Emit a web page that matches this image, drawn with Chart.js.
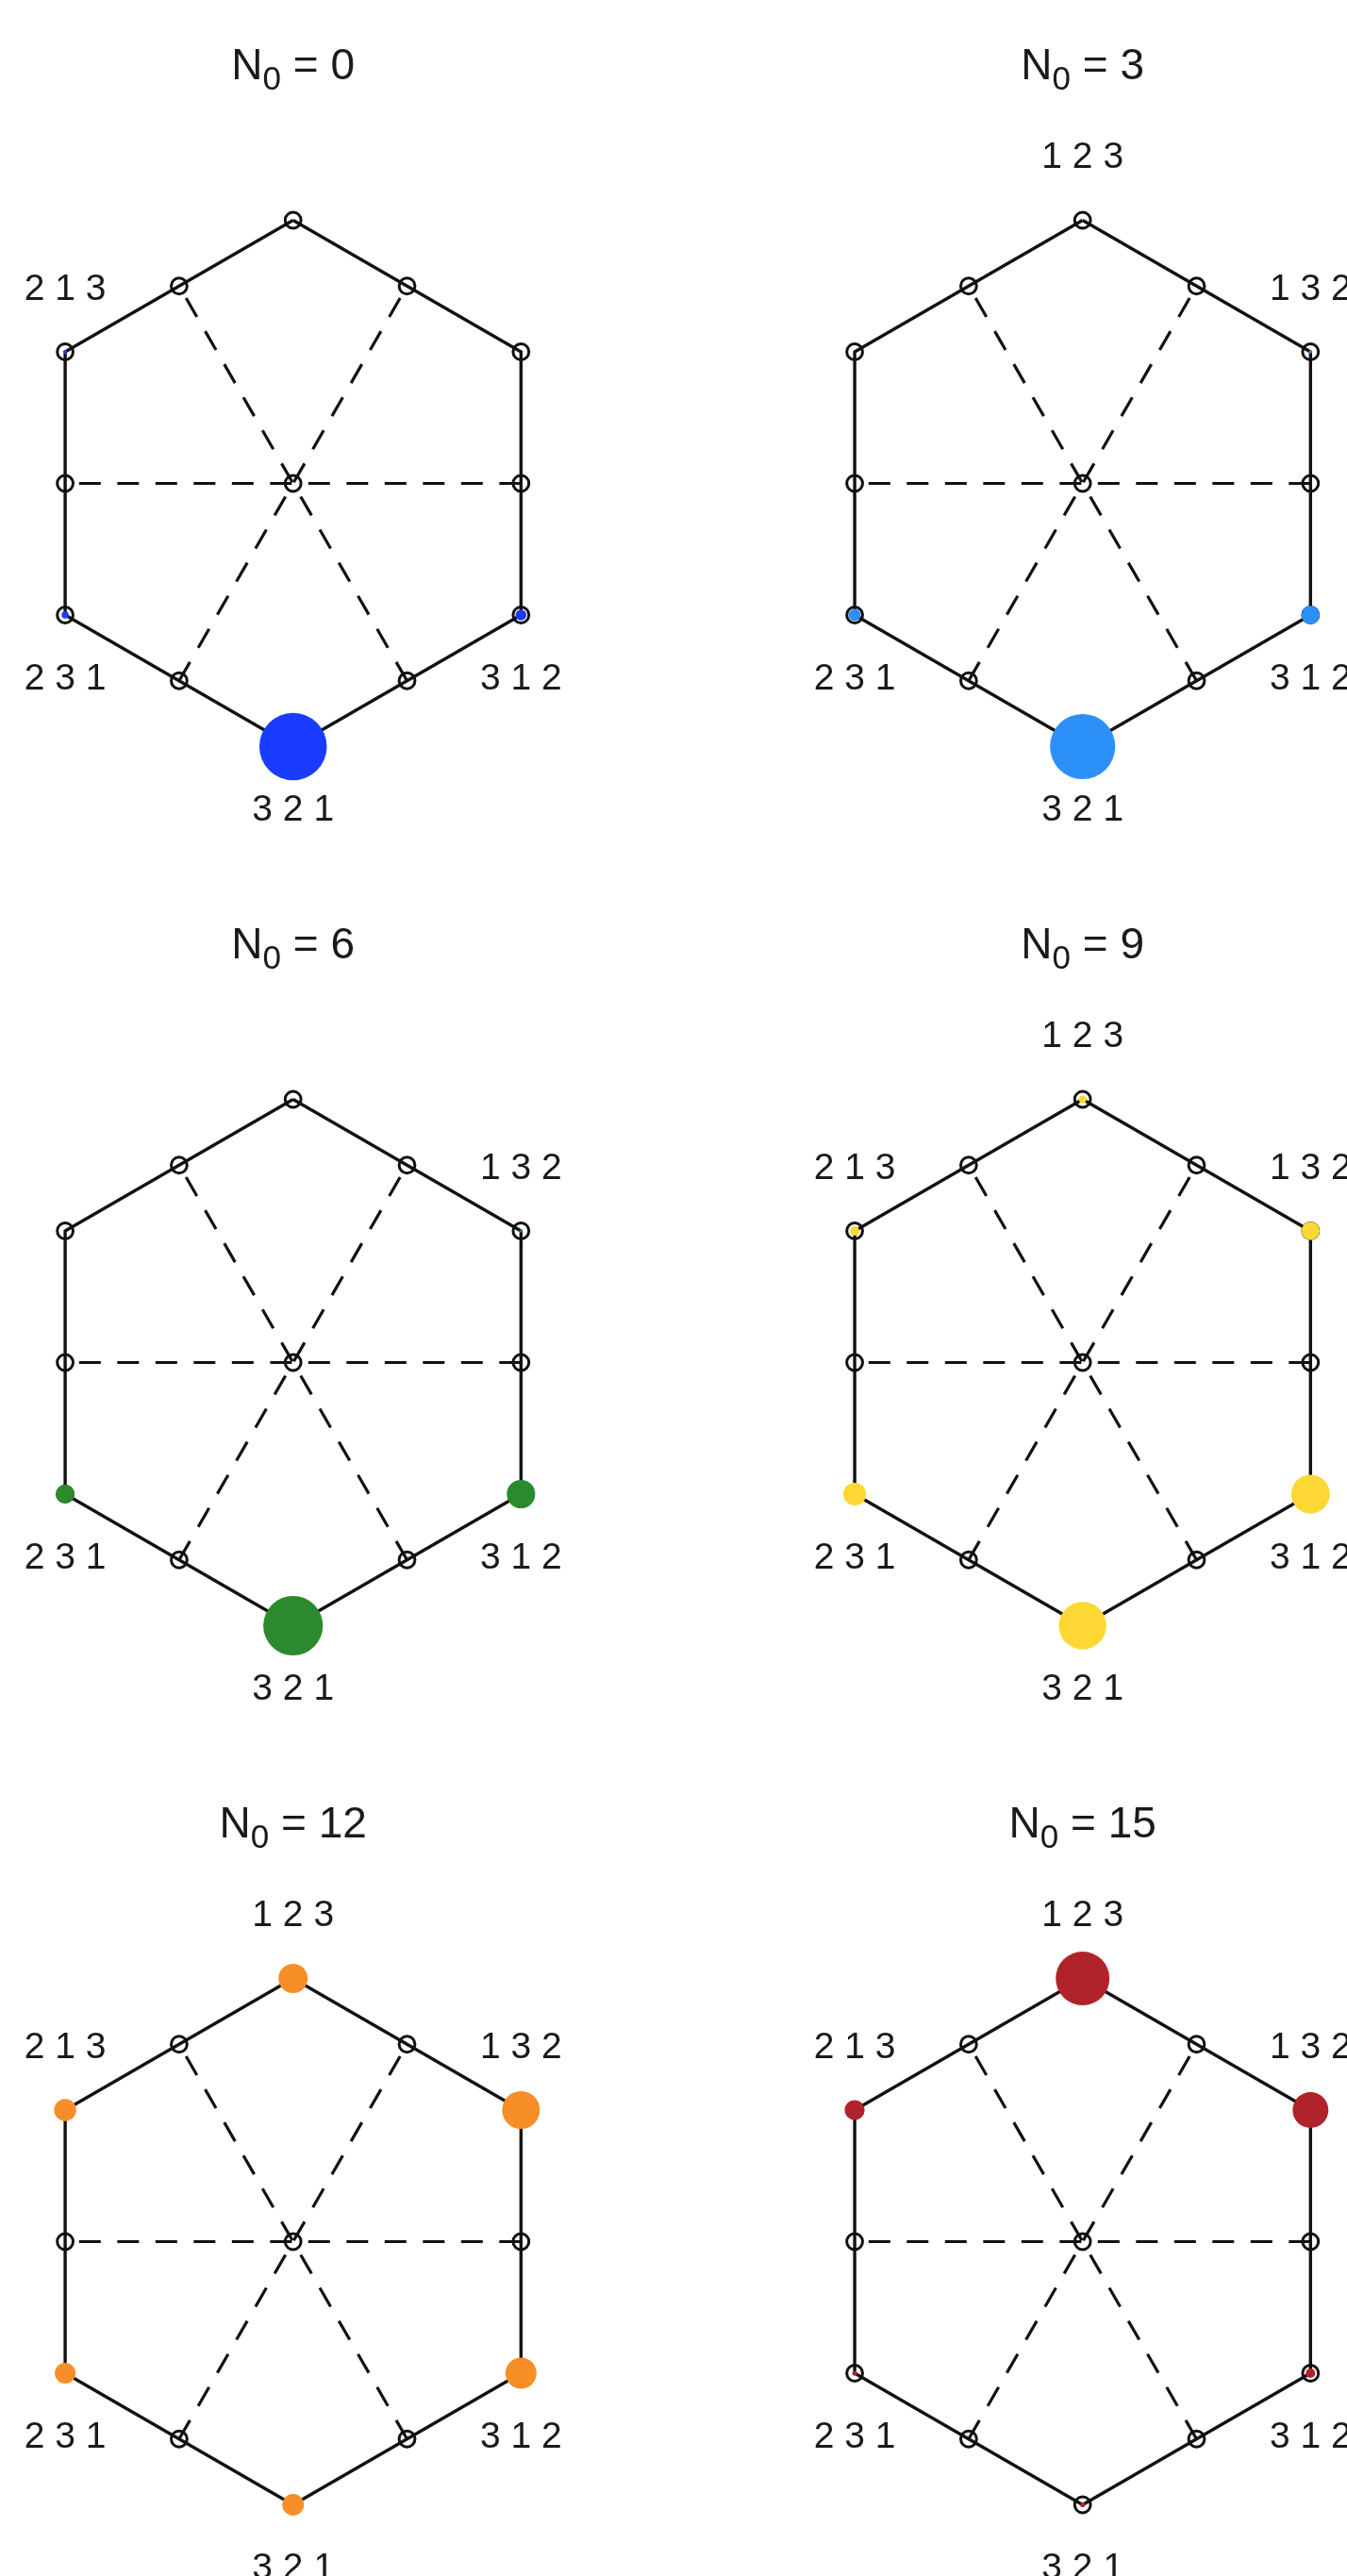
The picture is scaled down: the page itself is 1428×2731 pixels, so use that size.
<!DOCTYPE html>
<html>
<head>
<meta charset="utf-8">
<script src="https://cdn.jsdelivr.net/npm/chart.js@4.4.1/dist/chart.umd.min.js"></script>
<style>
  html, body { margin: 0; padding: 0; background: #fff; }
  #page { position: relative; width: 1428px; height: 2731px; overflow: hidden; }
  #page canvas { position: absolute; }
</style>
</head>
<body>
<div id="page"></div>
<script>
// N0 of each panel, left to right, top to bottom
const n0Values = [0, 3, 6, 9, 12, 15];

// vertex labels, clockwise from the top vertex
const vertexLabels = ['1 2 3', '1 3 2', '3 1 2', '3 2 1', '2 3 1', '2 1 3'];

// probability at each vertex (same order as vertexLabels), one array per panel
const probN0_0  = [0,      0,     0.025, 0.961, 0.011, 0.003];
const probN0_3  = [0.0003, 0.002, 0.07,  0.897, 0.031, 0];
const probN0_6  = [0,      0.002, 0.17,  0.75,  0.075, 0];
const probN0_9  = [0.012,  0.07,  0.315, 0.475, 0.11,  0.018];
const probN0_12 = [0.18,   0.30,  0.204, 0.099, 0.091, 0.103];
const probN0_15 = [0.61,   0.27,  0.019, 0.005, 0.005, 0.084];
const panelProbs = [probN0_0, probN0_3, probN0_6, probN0_9, probN0_12, probN0_15];

const panelColors = ['#1a3cfe', '#2b91f8', '#2b8a2e', '#fdd835', '#f88e27', '#b1232a'];

// geometry of the hexagon (unit radius), vertices clockwise from top
const vertexAngles = [90, 30, -30, -90, -150, 150];
const rad = d => d * Math.PI / 180;
const vertices = vertexAngles.map(a => ({ x: Math.cos(rad(a)), y: Math.sin(rad(a)) }));
const midpoints = vertices.map((v, i) => {
    const w = vertices[(i + 1) % 6];
    return { x: (v.x + w.x) / 2, y: (v.y + w.y) / 2 };
});
// dashed lines join opposite edge midpoints
const dashPairs = [[1, 4], [2, 5], [3, 0]];

// layout of the cells
const CELL_W = 714, CELL_H = 932;
const PX = 279;                     // pixels per unit
const centerX = [310.7, 433.7];     // hexagon centre inside a cell, by column
const centerY = 512.5;
const BUBBLE_SCALE = 36.5;          // radius = scale * sqrt(p)
const FONT = '"Liberation Sans", Arial, sans-serif';

const panelText = {
    id: 'panelText',
    afterDatasetsDraw(chart, args, opts) {
        const { ctx, scales: { x, y } } = chart;
        const cx = x.getPixelForValue(0), cy = y.getPixelForValue(0);
        ctx.save();
        ctx.fillStyle = '#1a1a1a';

        // title: N with subscript 0
        const big = '46px ' + FONT, small = '35px ' + FONT;
        const rest = ' = ' + opts.n0;
        ctx.font = big;
        const wN = ctx.measureText('N').width, wRest = ctx.measureText(rest).width;
        ctx.font = small;
        const wSub = ctx.measureText('0').width;
        let tx = cx - (wN + wSub + wRest) / 2;
        const base = cy - 429;
        ctx.textAlign = 'left';
        ctx.textBaseline = 'alphabetic';
        ctx.font = big;
        ctx.fillText('N', tx, base);
        tx += wN;
        ctx.font = small;
        ctx.fillText('0', tx, base + 11);
        tx += wSub;
        ctx.font = big;
        ctx.fillText(rest, tx, base);

        // vertex labels where the probability is not zero
        ctx.font = '39px ' + FONT;
        ctx.textAlign = 'center';
        ctx.textBaseline = 'middle';
        vertices.forEach((v, i) => {
            if (opts.probs[i] <= 0) return;
            const px = x.getPixelForValue(v.x);
            const py = y.getPixelForValue(v.y) + (v.y > 0 ? -66 : 68);
            ctx.fillText(vertexLabels[i], px, py);
        });
        ctx.restore();
    }
};

const page = document.getElementById('page');

n0Values.forEach((n0, k) => {
    const col = k % 2, row = Math.floor(k / 2);
    const canvas = document.createElement('canvas');
    canvas.width = CELL_W;
    canvas.height = CELL_H;
    canvas.style.left = (col * CELL_W) + 'px';
    canvas.style.top = (row * CELL_H) + 'px';
    page.appendChild(canvas);

    const probs = panelProbs[k];
    const cx = centerX[col];

    const datasets = [
        {
            type: 'bubble',
            order: 0,
            data: vertices.map((v, i) => ({ x: v.x, y: v.y, r: BUBBLE_SCALE * Math.sqrt(probs[i]) })),
            backgroundColor: panelColors[k],
            borderWidth: 0,
        },
        {
            order: 1,
            data: [...vertices, ...midpoints, { x: 0, y: 0 }],
            pointRadius: 8.4,
            pointBorderWidth: 3,
            pointBackgroundColor: 'rgba(0,0,0,0)',
            pointBorderColor: '#111',
            showLine: false,
        },
        ...dashPairs.map(([a, b]) => ({
            order: 2,
            data: [midpoints[a], midpoints[b]],
            showLine: true,
            borderColor: '#111',
            borderWidth: 3.2,
            borderDash: [23, 17.5],
            pointRadius: 0,
        })),
        {
            order: 3,
            data: [...vertices, vertices[0]],
            showLine: true,
            borderColor: '#111',
            borderWidth: 3.4,
            pointRadius: 0,
        },
    ];

    new Chart(canvas, {
        type: 'scatter',
        data: { datasets },
        options: {
            responsive: false,
            animation: false,
            events: [],
            layout: { padding: 0, autoPadding: false },
            plugins: {
                legend: { display: false },
                tooltip: { enabled: false },
                panelText: { n0, probs },
            },
            scales: {
                x: { type: 'linear', display: false, min: -cx / PX, max: (CELL_W - cx) / PX },
                y: { type: 'linear', display: false, min: -(CELL_H - centerY) / PX, max: centerY / PX },
            },
        },
        plugins: [panelText],
    });
});
</script>
</body>
</html>
